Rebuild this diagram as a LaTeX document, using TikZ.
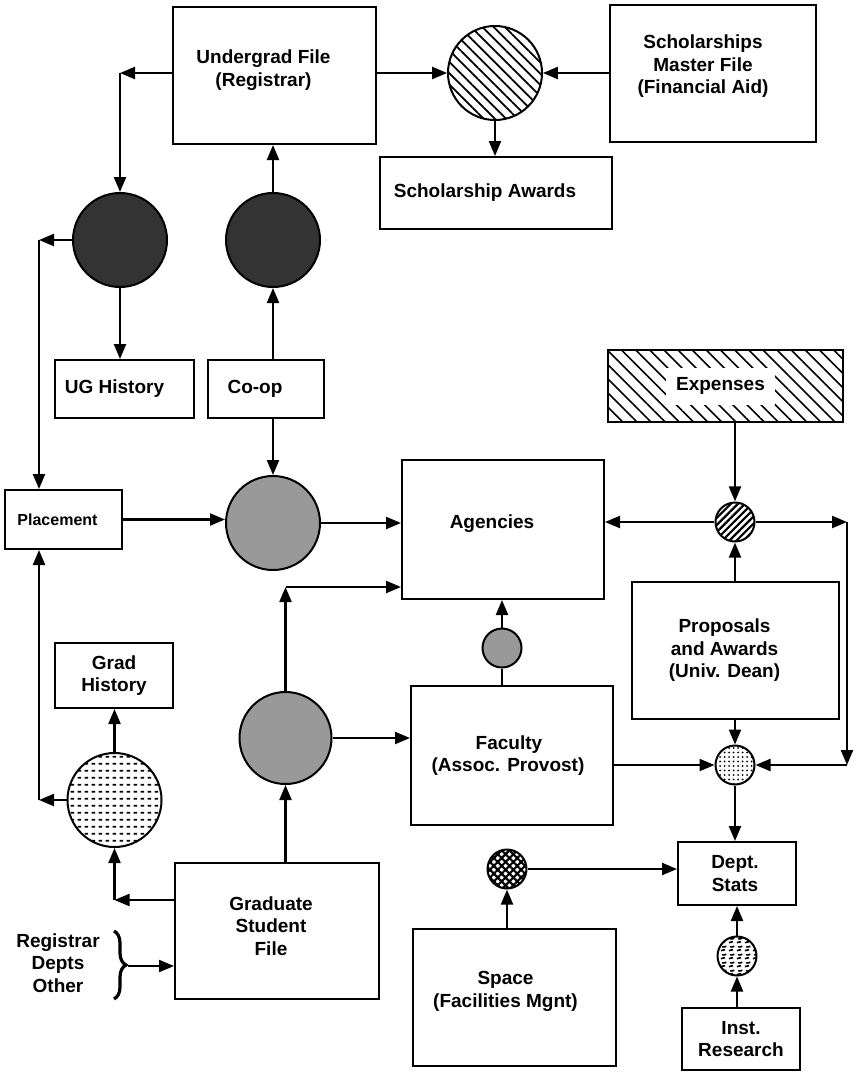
\documentclass[tikz,border=0pt]{standalone}
\usepackage{fontspec}
\setmainfont{Liberation Sans}
\usetikzlibrary{arrows.meta, patterns.meta, decorations.pathreplacing}

\tikzdeclarepattern{
  name=dashrows,
  bounding box={(0pt,0pt) and (7pt,6.7pt)},
  tile size={(7pt,6.7pt)},
  code={\fill (0.8pt,2.4pt) rectangle (4.8pt,4.4pt);}
}
\tikzdeclarepattern{
  name=squiggles,
  bounding box={(0pt,0pt) and (8pt,8pt)},
  tile size={(8pt,8pt)},
  code={
    \draw[line width=1.8pt] (1pt,1.5pt) .. controls (2.5pt,3.5pt) and (3.5pt,0.5pt) .. (5.5pt,2.5pt);
    \draw[line width=1.8pt] (2.5pt,5.5pt) .. controls (4.5pt,7.2pt) and (5.5pt,4pt) .. (7pt,6.3pt);
  }
}

\begin{document}
\begin{tikzpicture}[
    x=1pt, y=-1pt,
    >={Triangle[length=15pt,width=12pt]},
    font=\bfseries\fontsize{19}{22.5}\selectfont,
    box/.style={draw, line width=2pt, align=center, inner sep=2pt},
    bighub/.style={draw, circle, line width=2pt, inner sep=0pt, minimum size=94pt},
    smallhub/.style={draw, circle, line width=2pt, inner sep=0pt, minimum size=39pt},
    darkfill/.style={fill=black!80},
    grayfill/.style={fill=black!40},
    arrow/.style={->, line width=2.2pt},
    link/.style={line width=2.2pt}
  ]
    \useasboundingbox (0,0) rectangle (857,1072);
    \node[box, minimum width=203pt, minimum height=137pt] (ugfile) at (274.5,75.5)
    {Undergrad File\kern22pt\\(Registrar)\kern22pt\\[-8pt]};
    \node[bighub, pattern={Lines[angle=-45,distance=8pt,line width=1.8pt]}] (schmatch) at (495,73) {};
    \node[box, minimum width=206pt, minimum height=137pt] (scholfile) at (713,73.5)
    {Scholarships\kern20pt\\Master File\kern20pt\\(Financial Aid)\kern20pt\\[-4pt]};
    \node[box, minimum width=232pt, minimum height=72pt] (schawards) at (496,193) {Scholarship Awards\kern22pt};
    \node[bighub, darkfill] (ugjoin) at (120,240) {};
    \node[bighub, darkfill] (coopjoin) at (273,240) {};
    \node[box, minimum width=139pt, minimum height=58pt] (ughist) at (124.5,389) {UG History\kern20pt};
    \node[box, minimum width=116pt, minimum height=58pt] (coop) at (266,389) {Co-op\kern22pt};
    \node[box, minimum width=117pt, minimum height=59pt, font=\bfseries\fontsize{16}{19}\selectfont] (placement) at (63.5,519.5) {Placement\kern12pt};
    \node[bighub, grayfill] (agencyjoin) at (273,523) {};
    \node[box, minimum width=202pt, minimum height=139pt] (agencies) at (503,529.5) {Agencies\kern22pt\\[-6pt]};
    \node[box, minimum width=235pt, minimum height=72pt, pattern={Lines[angle=-45,distance=10pt,line width=1.6pt]}] (expenses) at (725.5,386)
    {\setlength{\fboxsep}{10pt}\colorbox{white}{Expenses}\kern10pt};
    \node[smallhub, pattern={Lines[angle=45,distance=5pt,line width=2.2pt]}] (expjoin) at (735,522) {};
    \node[box, minimum width=207pt, minimum height=137pt] (proposals) at (735.5,650.5)
    {Proposals\kern22pt\\and Awards\kern22pt\\(Univ. Dean)\kern22pt};
    \node[smallhub, grayfill] (facjoin) at (502,648) {};
    \node[bighub, minimum size=92pt, grayfill] (gradjoin) at (285.5,738) {};
    \node[box, minimum width=202pt, minimum height=139pt] (faculty) at (512,755.5)
    {Faculty\kern6pt\\(Assoc. Provost)\kern8pt};
    \node[smallhub, pattern={Dots[distance=4.5pt,radius=1pt]}] (statsjoin) at (735,765) {};
    \node[box, minimum width=118pt, minimum height=65pt] (gradhist) at (114,675.5) {Grad\\History};
    \node[bighub, pattern=dashrows] (gradsplit) at (114.5,800) {};
    \node[box, minimum width=204pt, minimum height=136pt] (gradfile) at (277,931)
    {Graduate\kern12pt\\Student\kern12pt\\File\kern12pt\\[-12pt]};
    \node[align=center] (sources) at (58,963) {Registrar\\Depts\\Other};
    \node[box, minimum width=118pt, minimum height=63pt] (deptstats) at (737,873.5) {Dept.\kern4pt\\Stats\kern4pt};
    \node[smallhub, pattern={Hatch[angle=45,distance=5.5pt,line width=2.2pt]}] (spacejoin) at (507,869) {};
    \node[box, minimum width=203pt, minimum height=137pt] (space) at (514.5,997.5)
    {Space\kern18pt\\(Facilities Mgnt)\kern18pt\\[-6pt]};
    \node[smallhub, pattern=squiggles] (irjoin) at (737,956) {};
    \node[box, minimum width=118pt, minimum height=62pt] (instres) at (741,1039) {Inst.\\Research};
    \draw[decorate, decoration={brace, amplitude=12pt}, line width=3.2pt] (114,931) -- (114,999);
    \coordinate (ugturn) at (120,73);
    \coordinate (placeturn) at (39,240);
    \coordinate (agturn) at (285.5,587);
    \coordinate (gsturn) at (114.5,900);
    \coordinate (ghturn) at (39,800);
    \coordinate (expturn) at (847,522);
    \coordinate (statsturn) at (847,765);
    \coordinate (bracetip) at (128,966);
    \draw[arrow] (ugfile.west |- ugturn) -- (ugturn);
    \draw[arrow] (ugturn) -- (ugjoin);
    \draw[arrow] (ugfile.east |- schmatch) -- (schmatch);
    \draw[arrow] (scholfile.west |- schmatch) -- (schmatch);
    \draw[arrow] (schmatch) -- (schmatch |- schawards.north);
    \draw[arrow] (coopjoin) -- (coopjoin |- ugfile.south);
    \draw[arrow] (ugjoin) -- (ugjoin |- ughist.north);
    \draw[arrow] (coopjoin |- coop.north) -- (coopjoin);
    \draw[arrow] (coopjoin |- coop.south) -- (agencyjoin);
    \draw[arrow] (ugjoin) -- (placeturn);
    \draw[arrow] (placeturn) -- (placeturn |- placement.north);
    \draw[arrow] (placement.east) -- (placement.east -| agencyjoin.west);
    \draw[arrow] (agencyjoin) -- (agencyjoin -| agencies.west);
    \draw[arrow] (gradjoin) -- (agturn);
    \draw[arrow] (agturn) -- (agturn -| agencies.west);
    \draw[arrow] (gradjoin) -- (gradjoin -| faculty.west);
    \draw[arrow] (gradjoin |- gradfile.north) -- (gradjoin);
    \draw[arrow] (gradfile.west |- gsturn) -- (gsturn);
    \draw[arrow] (gsturn) -- (gradsplit);
    \draw[arrow] (gradsplit) -- (gradsplit |- gradhist.south);
    \draw[arrow] (gradsplit) -- (ghturn);
    \draw[arrow] (ghturn) -- (ghturn |- placement.south);
    \draw[arrow] (bracetip) -- (bracetip -| gradfile.west);
    \draw[arrow] (expjoin |- expenses.south) -- (expjoin);
    \draw[arrow] (expjoin) -- (expjoin -| agencies.east);
    \draw[arrow] (expjoin) -- (expturn);
    \draw[arrow] (expturn) -- (statsturn);
    \draw[arrow] (statsturn) -- (statsjoin);
    \draw[arrow] (expjoin |- proposals.north) -- (expjoin);
    \draw[arrow] (statsjoin |- proposals.south) -- (statsjoin);
    \draw[arrow] (faculty.east |- statsjoin) -- (statsjoin);
    \draw[link] (facjoin |- faculty.north) -- (facjoin);
    \draw[arrow] (facjoin) -- (facjoin |- agencies.south);
    \draw[arrow] (statsjoin) -- (statsjoin |- deptstats.north);
    \draw[arrow] (spacejoin) -- (spacejoin -| deptstats.west);
    \draw[arrow] (spacejoin |- space.north) -- (spacejoin);
    \draw[arrow] (irjoin) -- (irjoin |- deptstats.south);
    \draw[arrow] (irjoin |- instres.north) -- (irjoin);
  \end{tikzpicture}
\end{document}
